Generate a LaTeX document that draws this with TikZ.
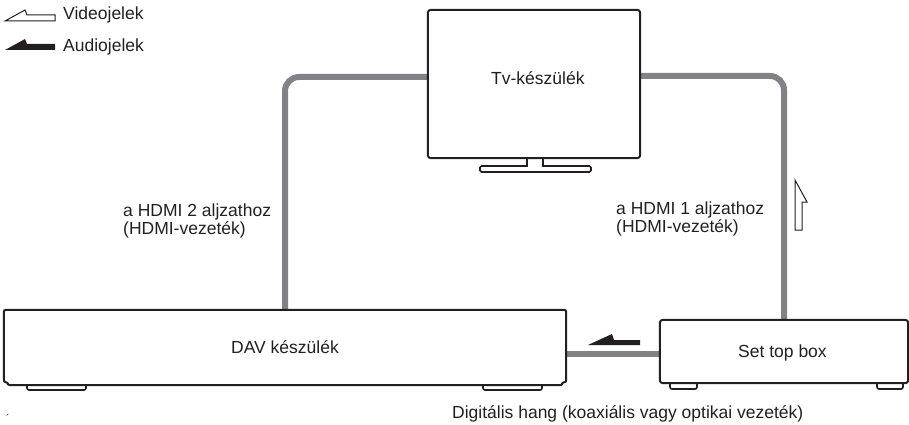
\documentclass[tikz,border=0pt]{standalone}
\usepackage{fontspec}
\setmainfont{Liberation Sans}
\usetikzlibrary{backgrounds}
\definecolor{ink}{HTML}{231F20}
\definecolor{cablegray}{HTML}{808285}
\begin{document}
\begin{tikzpicture}[x=1pt,y=-1pt,
  txt/.style={inner sep=0pt,font=\fontsize{17.5}{17.5}\selectfont,text=ink},
  boxline/.style={draw=ink,line width=2pt,fill=white,line join=round},
  devbox/.style={rectangle,inner sep=0pt,draw=none},
  cable/.style={draw=cablegray,line width=6pt},
  foot/.style={draw=ink,line width=1.6pt,fill=white,rounded corners=2pt}]
\useasboundingbox (0,0) rectangle (909,425);

% legend
\draw[draw=ink,line width=1pt,fill=white,line join=miter]
  (5,21) -- (25,10) -- (27,15) -- (55,15) -- (55,21) -- cycle;
\fill[ink] (5,50) -- (25,39) -- (27,44) -- (55,44) -- (55,50) -- cycle;
\node[txt,anchor=base west] (lv) at (63,20) {Videojelek};
\node[txt,anchor=base west] (la) at (63,52) {Audiojelek};

% devices (geometry)
\node[devbox,minimum width=212,minimum height=148] (tv) at (534,84) {};
\node[devbox,minimum width=562,minimum height=75] (dav) at (285,347.5) {};
\node[devbox,minimum width=248,minimum height=63] (stb) at (784,351.5) {};

% cables behind
\begin{scope}[on background layer]
\draw[cable,rounded corners=14pt] ([yshift=7pt]tv.west) -| (dav.north);
\draw[cable,rounded corners=14pt] ([yshift=8pt]tv.east) -| (stb.north);
\draw[cable] ([yshift=-6.5pt]dav.east) -- ([yshift=-6.5pt]dav.east -| stb.west);
\end{scope}

% TV stand
\draw[foot,rounded corners=1.5pt] (480,166) rectangle (591,172);
\fill[white] (528,157) rectangle (542,167);
\draw[draw=ink,line width=1.6pt] (527,157) -- (527,166) (543,157) -- (543,166);
% TV
\draw[boxline,rounded corners=3pt] (tv.south west) rectangle (tv.north east);
\node[txt,anchor=base west] (tvl) at (491,85) {Tv-készülék};

% DAV feet and body
\draw[foot] (27,382) -- (27,390) -- (86,390) -- (86,382);
\draw[foot] (483,382) -- (483,390) -- (542,390) -- (542,382);
\draw[boxline,rounded corners=2pt]
  ([yshift=3pt]dav.south west) |- (dav.north east)
  -- ([yshift=3pt]dav.south east) -- ++(-4pt,0) -- ([xshift=-4pt]dav.south east)
  -- ([xshift=4pt]dav.south west) -- ++(0,3pt) -- cycle;
\node[txt] (davl) at (285,347) {DAV készülék};

% STB feet and body
\draw[foot] (670,380) -- (670,389) -- (697,389) -- (697,380);
\draw[foot] (877,380) -- (877,389) -- (903,389) -- (903,380);
\draw[boxline,rounded corners=3pt] (stb.south west) rectangle (stb.north east);
\node[txt,anchor=base west] (stbl) at (738,357) {Set top box};

% signal arrows
\fill[ink] (588,345) -- (612,334) -- (614,340) -- (640,340) -- (640,345) -- cycle;
\draw[draw=ink,line width=1pt,fill=white]
  (795,180) -- (807,202) -- (802,202) -- (802,230) -- (795,230) -- cycle;

% labels
\node[txt,anchor=north west,align=left] (h2) at (123,204)
  {a HDMI 2 aljzathoz\\(HDMI-vezeték)};
\node[txt,anchor=north west,align=left] (h1) at (616,202)
  {a HDMI 1 aljzathoz\\(HDMI-vezeték)};
\node[txt,anchor=base west] (dig) at (452,418)
  {Digitális hang (koaxiális vagy optikai vezeték)};
\node[txt,anchor=north,font=\fontsize{11}{11}\selectfont] (acc) at (8,414) {´};
\end{tikzpicture}
\end{document}
